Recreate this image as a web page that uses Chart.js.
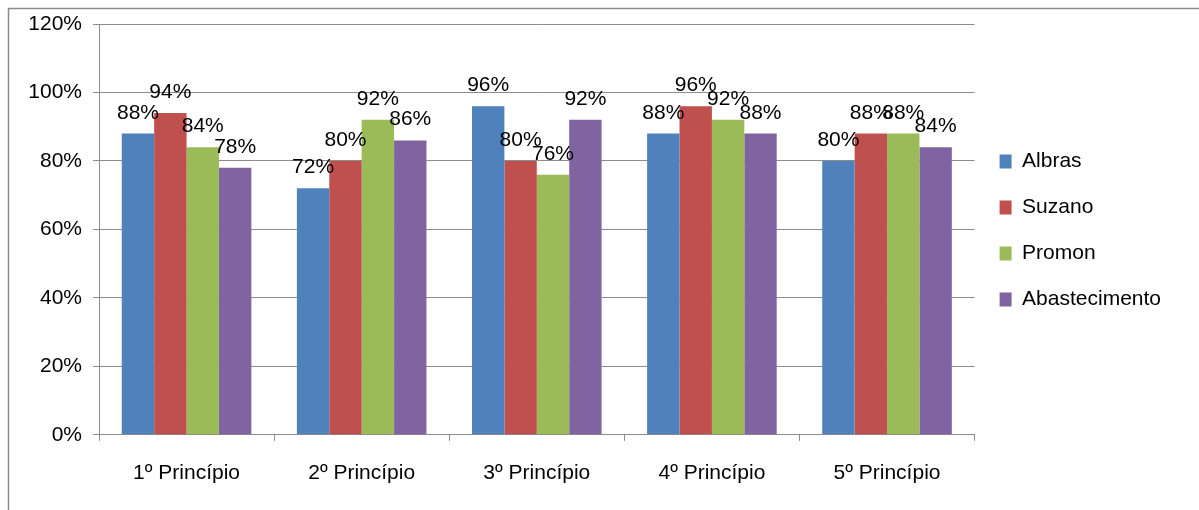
<!DOCTYPE html>
<html>
<head>
<meta charset="utf-8">
<script src="https://cdn.jsdelivr.net/npm/chart.js@4/dist/chart.umd.min.js"></script>
<style>
  html, body { margin: 0; padding: 0; background: #fff; }
  #wrap { width: 1199px; height: 510px; position: relative; }
</style>
</head>
<body>
<div id="wrap"><canvas id="c" width="1199" height="510"></canvas></div>
<script>
const categories = ['1º Princípio', '2º Princípio', '3º Princípio', '4º Princípio', '5º Princípio'];
const seriesNames = ['Albras', 'Suzano', 'Promon', 'Abastecimento'];
const albras = [88, 72, 96, 88, 80];
const suzano = [94, 80, 80, 96, 88];
const promon = [84, 92, 76, 92, 88];
const abastecimento = [78, 86, 92, 88, 84];
const seriesColors = ['#4F81BD', '#C0504D', '#9BBB59', '#8064A2'];
const yTicks = [0, 20, 40, 60, 80, 100, 120];

const FONT = "'Liberation Sans', Arial, sans-serif";
Chart.defaults.font.family = FONT;
Chart.defaults.color = '#000';

const frame = {
  id: 'frame',
  beforeDraw(chart) {
    const ctx = chart.ctx;
    ctx.save();
    ctx.strokeStyle = '#8a8a8a';
    ctx.lineWidth = 1.5;
    ctx.beginPath();
    ctx.moveTo(8.5, 520);
    ctx.lineTo(8.5, 8.5);
    ctx.lineTo(1210, 8.5);
    ctx.stroke();
    ctx.restore();
  }
};

const valueLabels = {
  id: 'valueLabels',
  afterDatasetsDraw(chart) {
    const ctx = chart.ctx;
    ctx.save();
    ctx.font = '21px ' + FONT;
    ctx.fillStyle = '#000';
    ctx.textAlign = 'center';
    ctx.textBaseline = 'alphabetic';
    chart.data.datasets.forEach((ds, i) => {
      const meta = chart.getDatasetMeta(i);
      meta.data.forEach((el, j) => {
        ctx.fillText(ds.data[j] + '%', el.x, el.y - 15);
      });
    });
    ctx.restore();
  }
};

const seriesData = [albras, suzano, promon, abastecimento];

new Chart(document.getElementById('c'), {
  type: 'bar',
  data: {
    labels: categories,
    datasets: seriesNames.map((n, i) => ({
      label: n,
      data: seriesData[i],
      backgroundColor: seriesColors[i],
      borderWidth: 0,
      categoryPercentage: 0.74,
      barPercentage: 1.0
    }))
  },
  options: {
    responsive: false,
    animation: false,
    devicePixelRatio: 1,
    layout: { padding: { left: 20, top: 24, right: 28, bottom: 4 } },
    plugins: {
      tooltip: { enabled: false },
      legend: {
        position: 'right',
        align: 'start',
        title: { display: true, text: ' ', padding: { top: 0, bottom: 92 }, font: { size: 10, lineHeight: 1 } },
        labels: {
          boxWidth: 12,
          boxHeight: 14,
          padding: 25,
          color: '#000',
          font: { size: 21, lineHeight: 1.05 }
        }
      }
    },
    scales: {
      x: {
        grid: { display: true, drawOnChartArea: false, drawTicks: true, tickLength: 6, color: '#8c8c8c', offset: true },
        border: { display: true, color: '#8c8c8c', width: 1 },
        ticks: { color: '#000', font: { size: 21 }, padding: 20, maxRotation: 0 }
      },
      y: {
        min: 0,
        max: 120,
        afterFit(scale) { scale.width = 79; },
        afterBuildTicks(scale) { scale.ticks = yTicks.map(v => ({ value: v })); },
        grid: { color: '#8c8c8c', tickLength: 6, drawTicks: true },
        border: { display: true, color: '#8c8c8c', width: 1 },
        ticks: { color: '#000', font: { size: 21 }, padding: 11, callback: v => v + '%' }
      }
    }
  },
  plugins: [frame, valueLabels]
});
</script>
</body>
</html>
